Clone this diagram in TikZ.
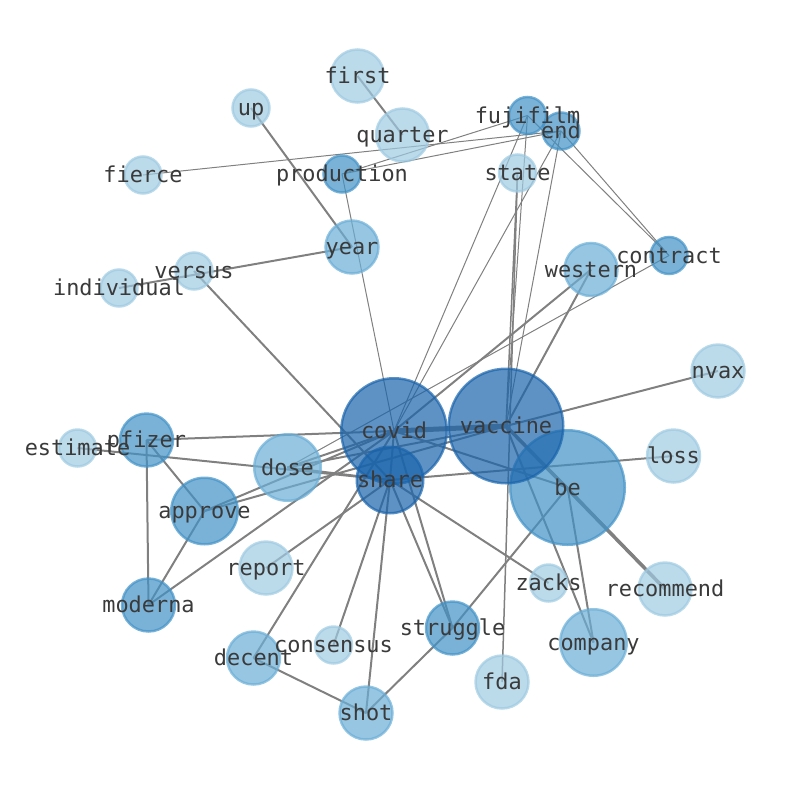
\documentclass[tikz,border=0pt]{standalone}
\usepackage{fontspec}
\setmonofont{DejaVu Sans Mono}
\definecolor{clt}{HTML}{9ECAE1}
\definecolor{cmd}{HTML}{6BAED6}
\definecolor{cmk}{HTML}{4292C6}
\definecolor{cdk}{HTML}{1A64AB}
\definecolor{txt}{HTML}{3A3A3A}
\pgfdeclarelayer{bg}
\pgfsetlayers{bg,main}
\begin{document}
\begin{tikzpicture}[x=1pt,y=-1pt,
  nd/.style={circle,inner sep=0pt,line width=2.5pt,fill opacity=0.7,draw opacity=0.7},
  lt/.style={nd,fill=clt,draw=clt},
  md/.style={nd,fill=cmd,draw=cmd},
  mk/.style={nd,fill=cmk,draw=cmk},
  dk/.style={nd,fill=cdk,draw=cdk},
  sa/.style={minimum size=37pt},
  sb/.style={minimum size=53pt},
  sc/.style={minimum size=66.5pt},
  sd/.style={minimum size=105.5pt},
  se/.style={minimum size=114.5pt},
  lbl/.style={font=\ttfamily\fontsize{21.9}{26}\selectfont,text=txt,inner sep=0pt,text height=16.6pt,text depth=4.9pt,yshift=-2pt},
  ed/.style={draw=gray,line width=2pt},
  et/.style={draw=gray,line width=1pt},
  ek/.style={draw=gray,line width=1.5pt}
]
\useasboundingbox (0,0) rectangle (794,790);
% nodes
\node[lt,sb] (first) at (357.5,76) {};
\node[lt,sa] (up) at (251,108) {};
\node[lt,sb] (quarter) at (402.5,135) {};
\node[lt,sa] (fierce) at (143,175) {};
\node[mk,sa] (production) at (342,174) {};
\node[lt,sa] (state) at (517.5,173) {};
\node[mk,sa] (fujifilm) at (527.5,115.5) {};
\node[mk,sa] (end) at (561,131) {};
\node[md,sb] (year) at (352,247) {};
\node[lt,sa] (versus) at (194,271) {};
\node[lt,sa] (individual) at (119,288) {};
\node[md,sb] (western) at (591,269.5) {};
\node[mk,sa] (contract) at (669,255.5) {};
\node[lt,sb] (nvax) at (718,371) {};
\node[lt,sa] (estimate) at (77.5,448) {};
\node[mk,sb] (pfizer) at (146.5,440) {};
\node[md,sc] (dose) at (287.5,467.5) {};
\node[lt,sb] (loss) at (673.5,456) {};
\node[mk,se] (be) at (567.5,487.5) {};
\node[dk,sd] (covid) at (394,431) {};
\node[dk,se] (vaccine) at (506,426) {};
\node[dk,sc] (share) at (390,480) {};
\node[mk,sc] (approve) at (204.5,511) {};
\node[lt,sb] (report) at (266,568) {};
\node[lt,sa] (zacks) at (548.5,583) {};
\node[lt,sb] (recommend) at (665,589) {};
\node[mk,sb] (moderna) at (148.5,605) {};
\node[mk,sb] (struggle) at (452.5,628) {};
\node[md,sc] (company) at (593.5,642.5) {};
\node[lt,sa] (consensus) at (333.5,645) {};
\node[md,sb] (decent) at (253.5,658) {};
\node[lt,sb] (fda) at (502,682) {};
\node[md,sb] (shot) at (366,713) {};
% edges
\begin{pgfonlayer}{bg}
\draw[ed] (first.center) -- (quarter.center);
\draw[ed] (up.center) -- (year.center);
\draw[et] (fierce.center) -- (end.center);
\draw[et] (production.center) -- (fujifilm.center);
\draw[et] (production.center) -- (end.center);
\draw[et] (production.center) -- (covid.center);
\draw[ed] (individual.center) -- (year.center);
\draw[ed] (versus.center) -- (share.center);
\draw[et] (fujifilm.center) -- (covid.center);
\draw[et] (end.center) -- (covid.center);
\draw[et] (fujifilm.center) -- (vaccine.center);
\draw[et] (end.center) -- (vaccine.center);
\draw[ek] (state.center) -- (vaccine.center);
\draw[ek] (state.center) -- (fda.center);
\draw[et] (fujifilm.center) -- (contract.center);
\draw[et] (end.center) -- (contract.center);
\draw[et] (contract.center) -- (dose.center);
\draw[ed] (western.center) -- (covid.center);
\draw[ed] (western.center) -- (vaccine.center);
\draw[ed] (vaccine.center) -- (nvax.center);
\draw[draw=gray,line width=5pt] (covid.center) -- (vaccine.center);
\draw[ed] (pfizer.center) -- (covid.center);
\draw[ed] (estimate.center) -- (share.center);
\draw[ed] (pfizer.center) -- (approve.center);
\draw[ed] (pfizer.center) -- (moderna.center);
\draw[ed] (approve.center) -- (moderna.center);
\draw[ed] (approve.center) -- (covid.center);
\draw[ed] (approve.center) -- (vaccine.center);
\draw[ed] (moderna.center) -- (covid.center);
\draw[ed] (dose.center) -- (covid.center);
\draw[ed] (dose.center) -- (share.center);
\draw[ed] (dose.center) -- (vaccine.center);
\draw[ed] (covid.center) -- (share.center);
\draw[ed] (covid.center) -- (be.center);
\draw[ed] (share.center) -- (loss.center);
\draw[ed] (share.center) -- (zacks.center);
\draw[ed] (share.center) -- (struggle.center);
\draw[ed] (covid.center) -- (struggle.center);
\draw[ed] (share.center) -- (shot.center);
\draw[ed] (consensus.center) -- (share.center);
\draw[ed] (decent.center) -- (covid.center);
\draw[ed] (report.center) -- (share.center);
\draw[ed] (shot.center) -- (struggle.center);
\draw[ed] (struggle.center) -- (be.center);
\draw[ed] (decent.center) -- (shot.center);
\draw[draw=gray,line width=3.5pt] (vaccine.center) -- (recommend.center);
\draw[ed] (be.center) -- (recommend.center);
\draw[ed] (vaccine.center) -- (company.center);
\draw[ed] (be.center) -- (company.center);
\draw[ed] (vaccine.center) -- (be.center);
\end{pgfonlayer}
% labels
\foreach \n in {first,up,quarter,fierce,production,state,fujifilm,end,year,versus,individual,western,contract,nvax,estimate,pfizer,dose,loss,be,covid,vaccine,share,approve,report,zacks,recommend,moderna,struggle,company,consensus,decent,fda,shot}
  \node[lbl] (l-\n) at (\n.center) {\n};
\end{tikzpicture}
\end{document}
